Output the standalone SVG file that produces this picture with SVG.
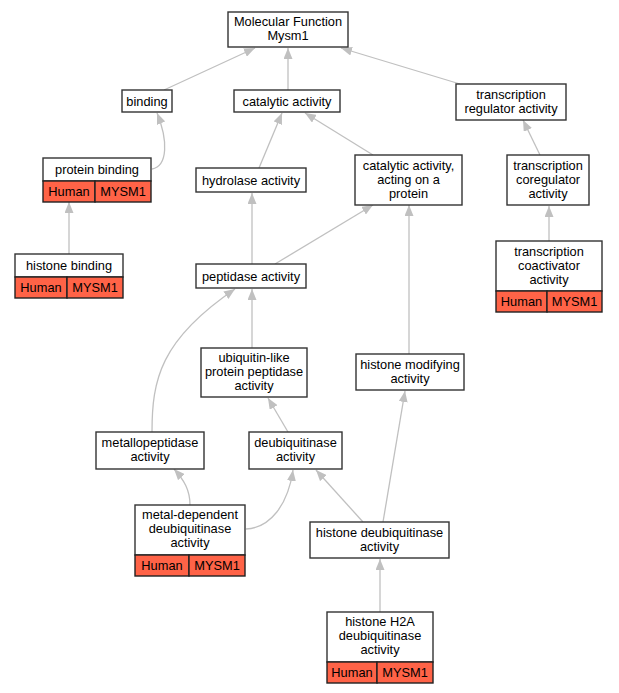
<svg xmlns="http://www.w3.org/2000/svg" width="619" height="693" viewBox="0 0 619 693">
<defs>
<marker id="ah" markerUnits="userSpaceOnUse" markerWidth="11" markerHeight="9" refX="11" refY="4.5" orient="auto">
<path d="M0,0 L11,4.5 L0,9 z" fill="#c0c0c0"/>
</marker>
<style>
.n{fill:#fff;stroke:#333;stroke-width:1.4}
.r{fill:#ff6347;stroke:#222;stroke-width:1.4}
text{font-family:"Liberation Sans",Arial,sans-serif;font-size:12.8px;fill:#000;text-anchor:middle}
.e{fill:none;stroke:#c0c0c0;stroke-width:1.3;marker-end:url(#ah)}
</style>
</defs>
<rect width="619" height="693" fill="#fff"/>
<g id="edges">
<path class="e" d="M164,90 L255,48"/>
<path class="e" d="M288,90 L288,48"/>
<path class="e" d="M460,84 L341,48"/>
<path class="e" d="M152,169 C168,166 168,140 157,113"/>
<path class="e" d="M259,168 L282,113"/>
<path class="e" d="M373,155 L305,113"/>
<path class="e" d="M540,155 L523,120"/>
<path class="e" d="M69,254 L69,202"/>
<path class="e" d="M252,264 L252,193"/>
<path class="e" d="M275,264 L373,205"/>
<path class="e" d="M549,241 L549,206"/>
<path class="e" d="M252,348 L252,289"/>
<path class="e" d="M152,432 C152,380 160,340 235,289"/>
<path class="e" d="M409,354 L409,205"/>
<path class="e" d="M288,432 L268,398"/>
<path class="e" d="M190,505 C190,490 184,480 174,469"/>
<path class="e" d="M246,529 C270,528 288,505 293,470"/>
<path class="e" d="M363,522 L316,470"/>
<path class="e" d="M383,522 L405,391"/>
<path class="e" d="M380,612 L380,559"/>
</g>
<g id="mf"><rect class="n" x="228" y="12" width="120" height="35"/><text x="288" y="26">Molecular Function</text><text x="288" y="40">Mysm1</text></g>
<g id="binding"><rect class="n" x="122" y="90" width="50" height="22"/><text x="147" y="105.5">binding</text></g>
<g id="catalytic"><rect class="n" x="234" y="90" width="106" height="22"/><text x="287" y="105.5">catalytic activity</text></g>
<g id="regulator"><rect class="n" x="456" y="84" width="110" height="36"/><text x="511" y="99">transcription</text><text x="511" y="113">regulator activity</text></g>
<g id="proteinbinding"><rect class="n" x="43" y="158" width="108" height="23"/><rect class="r" x="43" y="181" width="52" height="21"/><rect class="r" x="95" y="181" width="56" height="21"/><text x="97" y="174">protein binding</text><text x="69" y="196">Human</text><text x="123" y="196">MYSM1</text></g>
<g id="hydrolase"><rect class="n" x="196" y="168" width="110" height="24"/><text x="251" y="184.5">hydrolase activity</text></g>
<g id="actingprotein"><rect class="n" x="355" y="155" width="107" height="50"/><text x="408.5" y="170">catalytic activity,</text><text x="408.5" y="184">acting on a</text><text x="408.5" y="198">protein</text></g>
<g id="coregulator"><rect class="n" x="507" y="155" width="82" height="50"/><text x="548" y="170">transcription</text><text x="548" y="184">coregulator</text><text x="548" y="198">activity</text></g>
<g id="histonebinding"><rect class="n" x="15" y="254" width="108" height="23"/><rect class="r" x="15" y="277" width="52" height="21"/><rect class="r" x="67" y="277" width="56" height="21"/><text x="69" y="270">histone binding</text><text x="41" y="292">Human</text><text x="95" y="292">MYSM1</text></g>
<g id="peptidase"><rect class="n" x="196" y="264" width="110" height="24"/><text x="251" y="280.5">peptidase activity</text></g>
<g id="coactivator"><rect class="n" x="496" y="241" width="106" height="50"/><rect class="r" x="496" y="291" width="51" height="21"/><rect class="r" x="547" y="291" width="55" height="21"/><text x="549" y="256">transcription</text><text x="549" y="270">coactivator</text><text x="549" y="284">activity</text><text x="521.5" y="306">Human</text><text x="574.5" y="306">MYSM1</text></g>
<g id="ubiquitin"><rect class="n" x="201" y="348" width="106" height="49"/><text x="254" y="362">ubiquitin-like</text><text x="254" y="376">protein peptidase</text><text x="254" y="390">activity</text></g>
<g id="histonemod"><rect class="n" x="356" y="354" width="108" height="36"/><text x="410" y="369">histone modifying</text><text x="410" y="383">activity</text></g>
<g id="metallo"><rect class="n" x="96" y="432" width="108" height="37"/><text x="150" y="447">metallopeptidase</text><text x="150" y="461">activity</text></g>
<g id="deubiq"><rect class="n" x="249" y="432" width="93" height="37"/><text x="295.5" y="447">deubiquitinase</text><text x="295.5" y="461">activity</text></g>
<g id="metaldep"><rect class="n" x="135" y="505" width="110" height="50"/><rect class="r" x="135" y="555" width="54" height="21"/><rect class="r" x="189" y="555" width="56" height="21"/><text x="190" y="519">metal-dependent</text><text x="190" y="533">deubiquitinase</text><text x="190" y="547">activity</text><text x="162" y="570">Human</text><text x="217" y="570">MYSM1</text></g>
<g id="histonedeub"><rect class="n" x="310" y="522" width="139" height="36"/><text x="379.5" y="537">histone deubiquitinase</text><text x="379.5" y="551">activity</text></g>
<g id="h2a"><rect class="n" x="327" y="612" width="106" height="50"/><rect class="r" x="327" y="662" width="50" height="21"/><rect class="r" x="377" y="662" width="56" height="21"/><text x="380" y="626">histone H2A</text><text x="380" y="640">deubiquitinase</text><text x="380" y="654">activity</text><text x="352" y="677">Human</text><text x="405" y="677">MYSM1</text></g>
</svg>
